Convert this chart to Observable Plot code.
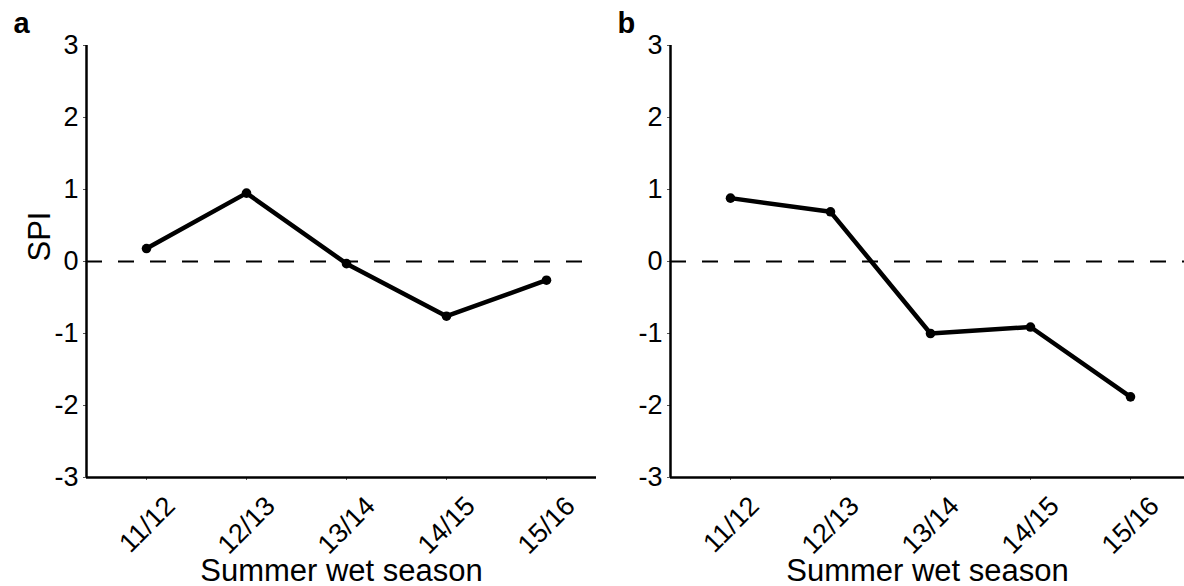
<!DOCTYPE html>
<html>
<head>
<meta charset="utf-8">
<script src="https://cdn.jsdelivr.net/npm/d3@7"></script>
<script src="https://cdn.jsdelivr.net/npm/@observablehq/plot@0.6"></script>
<style>
  html, body { margin: 0; padding: 0; background: #fff; }
  #wrap { display: flex; width: 1184px; height: 586px; }
  svg { font-family: "Liberation Sans", Arial, sans-serif; }
</style>
</head>
<body>
<div id="wrap"></div>
<script>
const seasons = ["11/12", "12/13", "13/14", "14/15", "15/16"];
const spiA = [0.18, 0.95, -0.03, -0.76, -0.26];
const spiB = [0.88, 0.69, -1.0, -0.91, -1.88];
const yTicks = [-3, -2, -1, 0, 1, 2, 3];
const panelLabels = ["a", "b"];
const xTitle = "Summer wet season";
const yTitle = "SPI";

function panel(values, label, opts) {
  const data = values.map((v, i) => ({i: i + 1, season: seasons[i], spi: v}));
  const xmin = 0.4, xmax = opts.xmax;
  const marks = [
    Plot.ruleY([0], {x1: xmin, x2: xmax, stroke: "black", strokeWidth: 2, strokeDasharray: "16,16"}),
    Plot.line(data, {x: "i", y: "spi", stroke: "black", strokeWidth: 4.5}),
    Plot.dot(data, {x: "i", y: "spi", r: 4.8, fill: "black", stroke: "none"}),
    Plot.axisY(yTicks, {tickSize: 3, stroke: "#555", tickFormat: () => "", label: null}),
    Plot.axisX(d3.range(1, 6), {tickSize: 3, stroke: "#555", tickFormat: () => "", label: null}),
    Plot.text(yTicks, {x: xmin, y: d => d, text: d => String(d), textAnchor: "end", dx: -8, fontSize: 27, fill: "black"}),
    Plot.text(data, {x: "i", y: -3, text: "season", rotate: -45, textAnchor: "end", lineAnchor: "middle", dx: 24, dy: 24, fontSize: 27, fill: "black"}),
    Plot.ruleX([xmin], {y1: -3, y2: 3, stroke: "black", strokeWidth: 2.5}),
    Plot.ruleY([-3], {x1: xmin, x2: xmax, stroke: "black", strokeWidth: 2.5}),
    Plot.text([xTitle], {frameAnchor: "bottom", dy: 103, fontSize: 31, fill: "black"}),
    Plot.text([label], {frameAnchor: "top-left", dx: opts.labDx, dy: -33, fontSize: 29, fontWeight: "bold", fill: "black", textAnchor: "start", lineAnchor: "top"})
  ];
  if (opts.yTitle) {
    marks.push(Plot.text([yTitle], {frameAnchor: "left", dx: -46, rotate: -90, fontSize: 31, fill: "black"}));
  }
  return Plot.plot({
    width: opts.width,
    height: 586,
    marginLeft: opts.marginLeft,
    marginRight: opts.marginRight,
    marginTop: 45,
    marginBottom: 109,
    style: {fontFamily: "'Liberation Sans', Arial, sans-serif", background: "white", overflow: "visible"},
    x: {domain: [xmin, xmax], axis: null},
    y: {domain: [-3, 3], axis: null},
    marks
  });
}

const wrap = document.getElementById("wrap");
wrap.appendChild(panel(spiA, panelLabels[0], {width: 600, marginLeft: 86, marginRight: 4, xmax: 5.5, yTitle: true, labDx: -73}));
wrap.appendChild(panel(spiB, panelLabels[1], {width: 584, marginLeft: 70, marginRight: 0, xmax: 5.54, yTitle: false, labDx: -53}));
</script>
</body>
</html>
